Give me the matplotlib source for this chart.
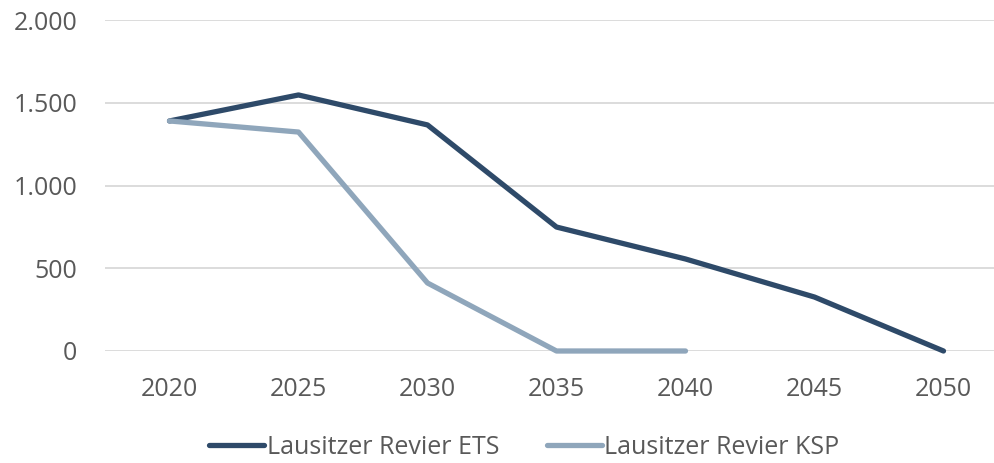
import numpy as np
import matplotlib.pyplot as plt
from matplotlib.ticker import FuncFormatter

# Fördermengen je Jahr (Lausitzer Revier)
years = ["2020", "2025", "2030", "2035", "2040", "2045", "2050"]
ets = [1390, 1547, 1366, 749, 556, 326, 0]
ksp = [1390, 1323, 411, 0, 0]

plt.rcParams['font.family'] = ['Open Sans', 'DejaVu Sans']
text_color = '#595959'

fig = plt.figure(figsize=(9.95, 4.63), dpi=100)
ax = fig.add_axes([105 / 995, 112 / 463, 890 / 995, 331 / 463])

x = np.arange(len(years))
ax.plot(x, ets, color='#2E4A69', lw=3.8, solid_capstyle='round',
        solid_joinstyle='round', label='Lausitzer Revier ETS', clip_on=False)
ax.plot(x[:len(ksp)], ksp, color='#8FA6BB', lw=3.8, solid_capstyle='round',
        solid_joinstyle='round', label='Lausitzer Revier KSP', clip_on=False)

ax.set_ylim(0, 2000)
ax.set_xlim(-0.5, -0.5 + 890 / 129)
ax.set_yticks(range(0, 2001, 500))
ax.yaxis.set_major_formatter(FuncFormatter(lambda v, p: f"{int(v):,}".replace(",", ".")))
ax.set_xticks(x)
ax.set_xticklabels(years)

ax.grid(axis='y', color='#D9D9D9', lw=1.3)
ax.set_axisbelow(True)
for s in ax.spines.values():
    s.set_visible(False)
ax.tick_params(length=0, labelsize=18, labelcolor=text_color)
ax.tick_params(axis='y', pad=20)
ax.tick_params(axis='x', pad=19)

leg = fig.legend(loc='center', bbox_to_anchor=(0.527, 1 - 447 / 463), ncol=2,
                 frameon=False, fontsize=18, handlelength=2.2,
                 handletextpad=0.1, columnspacing=1.9, labelcolor=text_color)

fig.savefig('out.png', dpi=100)
